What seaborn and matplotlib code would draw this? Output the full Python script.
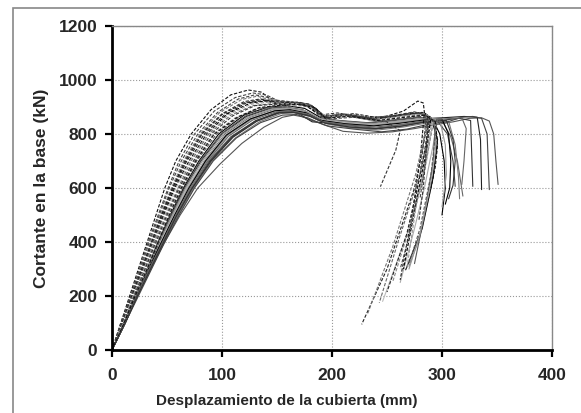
import matplotlib
matplotlib.use("Agg")
import matplotlib.pyplot as plt
from matplotlib.patches import Rectangle
import seaborn as sns

# pushover curves: (desplazamiento mm, cortante kN)
# dashed family (stiffer)
d1 = [(0, 0), (8, 100), (16, 200), (24, 300), (32, 400), (40, 500), (48, 600), (58, 700), (72, 800), (90, 890), (108, 945), (124, 963), (136, 955), (145, 925), (160, 915), (178, 912), (190, 865), (205, 870), (225, 865), (245, 860), (265, 885), (278, 922), (283, 915), (284, 880), (280, 700), (272, 480), (262, 260)]
d2 = [(0, 0), (9, 100), (17, 200), (26, 300), (34, 400), (43, 500), (52, 600), (63, 700), (78, 800), (96, 880), (115, 930), (130, 945), (142, 935), (155, 918), (170, 918), (182, 905), (192, 862), (210, 875), (232, 860), (255, 868), (275, 882), (286, 870), (280, 650), (270, 420), (262, 300)]
d3 = [(0, 0), (10, 100), (19, 200), (28, 300), (37, 400), (46, 500), (56, 600), (68, 700), (84, 800), (102, 870), (122, 915), (140, 925), (155, 912), (172, 915), (185, 895), (195, 860), (215, 872), (240, 855), (262, 870), (280, 875), (288, 860), (275, 600), (250, 300), (227, 95)]
d4 = [(0, 0), (9, 100), (18, 200), (27, 300), (36, 400), (45, 500), (55, 600), (66, 700), (81, 800), (100, 875), (120, 920), (135, 930), (150, 915), (175, 912), (188, 870), (205, 878), (230, 860), (250, 845), (262, 812), (258, 740), (244, 605)]
d5 = [(0, 0), (10, 100), (20, 200), (30, 300), (39, 400), (49, 500), (60, 600), (72, 700), (88, 800), (108, 870), (128, 905), (145, 912), (165, 912), (180, 908), (192, 862), (212, 868), (238, 852), (262, 865), (282, 872), (290, 850), (280, 650), (260, 400), (243, 175)]
d6 = [(0, 0), (11, 100), (21, 200), (31, 300), (41, 400), (51, 500), (62, 600), (75, 700), (92, 800), (112, 860), (132, 895), (150, 905), (170, 910), (183, 900), (194, 858), (215, 865), (240, 848), (265, 860), (284, 870), (292, 840), (282, 620), (268, 420), (255, 250)]
d7 = [(0, 0), (10, 100), (19, 200), (29, 300), (38, 400), (47, 500), (57, 600), (70, 700), (86, 800), (105, 875), (126, 915), (140, 922), (152, 910), (172, 915), (186, 880), (196, 865), (220, 875), (245, 858), (268, 875), (284, 878), (290, 860), (284, 700), (272, 450), (265, 300)]
d8 = [(0, 0), (11, 100), (22, 200), (33, 300), (43, 400), (53, 500), (64, 600), (77, 700), (95, 800), (116, 865), (136, 895), (155, 900), (172, 905), (185, 895), (195, 855), (220, 862), (245, 845), (268, 858), (286, 868), (295, 835), (290, 650), (280, 450), (270, 320)]
d9 = [(0, 0), (9, 100), (18, 200), (27, 300), (35, 400), (44, 500), (54, 600), (65, 700), (80, 800), (98, 880), (118, 928), (132, 940), (145, 925), (162, 918), (178, 912), (190, 866), (208, 874), (235, 858), (260, 866), (278, 874), (288, 862), (276, 650), (255, 380), (232, 130)]
d10 = [(0, 0), (10, 100), (20, 200), (30, 300), (40, 400), (50, 500), (61, 600), (74, 700), (90, 800), (110, 868), (130, 905), (148, 910), (168, 912), (182, 902), (193, 860), (214, 870), (238, 855), (262, 868), (280, 878), (287, 862), (286, 760), (283, 600), (279, 480)]
d11 = [(0, 0), (9, 100), (18, 200), (27, 300), (36, 400), (45, 500), (55, 600), (67, 700), (82, 800), (100, 872), (120, 915), (136, 928), (150, 918), (170, 916), (184, 900), (194, 862), (214, 872), (240, 858), (264, 872), (282, 880), (289, 865), (282, 680), (268, 430), (250, 215)]
d12 = [(0, 0), (10, 100), (19, 200), (29, 300), (38, 400), (48, 500), (58, 600), (71, 700), (87, 800), (106, 872), (126, 910), (142, 918), (158, 912), (175, 914), (188, 880), (197, 864), (220, 872), (246, 856), (270, 870), (285, 875), (291, 855), (286, 720), (276, 520), (268, 300)]
d13 = [(0, 0), (8, 100), (17, 200), (25, 300), (33, 400), (42, 500), (51, 600), (61, 700), (75, 800), (93, 885), (112, 935), (128, 952), (140, 945), (150, 925), (166, 918), (180, 910), (191, 864), (208, 872), (232, 862), (256, 866), (274, 880), (284, 872), (288, 800), (285, 700), (280, 560)]
d14 = [(0, 0), (11, 100), (21, 200), (32, 300), (42, 400), (52, 500), (63, 600), (76, 700), (93, 800), (114, 862), (134, 898), (152, 906), (170, 910), (184, 898), (194, 858), (216, 866), (242, 850), (266, 862), (285, 870), (294, 845), (296, 760), (294, 680), (290, 600)]

# solid family (softer)
s1 = [(0, 0), (11, 100), (21, 200), (32, 300), (42, 400), (53, 500), (65, 600), (79, 700), (97, 800), (120, 870), (142, 900), (158, 905), (175, 895), (190, 860), (210, 845), (235, 838), (260, 845), (280, 855), (292, 850), (298, 800), (302, 700), (303, 600), (300, 500)]
s2 = [(0, 0), (12, 100), (23, 200), (35, 300), (47, 400), (60, 500), (74, 600), (90, 700), (110, 790), (130, 845), (150, 880), (162, 885), (175, 878), (188, 850), (205, 835), (230, 830), (255, 840), (278, 852), (295, 852), (305, 800), (310, 700), (312, 606)]
s3 = [(0, 0), (12, 100), (23, 200), (35, 300), (48, 400), (62, 500), (78, 600), (98, 688), (118, 765), (138, 825), (155, 862), (165, 870), (178, 860), (192, 835), (210, 810), (232, 803), (255, 808), (275, 820), (295, 835), (310, 845), (325, 858), (336, 860), (343, 848), (347, 800), (349, 700), (351, 613)]
s4 = [(0, 0), (11, 100), (22, 200), (33, 300), (44, 400), (56, 500), (69, 600), (84, 700), (103, 800), (125, 860), (146, 890), (160, 892), (172, 870), (182, 845), (200, 840), (225, 832), (250, 842), (275, 855), (300, 860), (320, 865), (332, 862), (335, 780), (336, 594)]
s5 = [(0, 0), (11, 100), (22, 200), (33, 300), (45, 400), (57, 500), (70, 600), (86, 700), (105, 795), (127, 855), (148, 885), (162, 890), (176, 880), (190, 852), (212, 842), (238, 835), (262, 845), (282, 858), (292, 855), (296, 760), (290, 600), (280, 420), (270, 310)]
s6 = [(0, 0), (12, 100), (22, 200), (34, 300), (46, 400), (58, 500), (72, 600), (88, 700), (108, 790), (130, 848), (150, 878), (163, 882), (178, 870), (192, 845), (215, 830), (240, 822), (265, 835), (285, 848), (300, 850), (308, 790), (314, 700), (319, 570)]
s7 = [(0, 0), (11, 100), (21, 200), (32, 300), (43, 400), (54, 500), (66, 600), (81, 700), (100, 800), (122, 865), (144, 895), (158, 898), (174, 888), (188, 858), (208, 848), (234, 840), (258, 850), (280, 860), (290, 858), (296, 780), (292, 640), (282, 450), (267, 297)]
s8 = [(0, 0), (12, 100), (23, 200), (34, 300), (46, 400), (59, 500), (73, 600), (89, 700), (109, 790), (131, 850), (152, 880), (165, 882), (180, 868), (194, 840), (215, 825), (238, 818), (262, 828), (285, 845), (302, 852), (316, 858), (326, 850), (328, 606)]
s9 = [(0, 0), (11, 100), (22, 200), (33, 300), (44, 400), (56, 500), (69, 600), (85, 700), (104, 798), (126, 858), (148, 888), (162, 892), (178, 880), (192, 850), (212, 838), (236, 832), (260, 842), (282, 855), (298, 852), (303, 760), (304, 650), (300, 530)]
s10 = [(0, 0), (12, 100), (23, 200), (35, 300), (47, 400), (60, 500), (74, 600), (91, 700), (112, 785), (134, 845), (154, 876), (166, 878), (180, 865), (195, 838), (218, 822), (242, 815), (265, 826), (288, 842), (306, 848), (312, 760), (315, 640), (316, 560)]
s11 = [(0, 0), (11, 100), (21, 200), (32, 300), (43, 400), (55, 500), (67, 600), (82, 700), (101, 800), (124, 862), (146, 892), (160, 896), (175, 885), (189, 856), (210, 845), (236, 838), (260, 848), (284, 858), (296, 855), (292, 760), (284, 600), (275, 450), (262, 250)]
s12 = [(0, 0), (12, 100), (24, 200), (36, 300), (48, 400), (61, 500), (75, 600), (92, 700), (113, 785), (135, 842), (155, 870), (168, 872), (182, 850), (196, 830), (220, 818), (245, 808), (268, 818), (290, 838), (305, 845), (318, 862), (328, 865), (336, 858), (341, 800), (343, 594)]
s13 = [(0, 0), (11, 100), (22, 200), (33, 300), (44, 400), (56, 500), (68, 600), (84, 700), (103, 798), (125, 858), (147, 888), (161, 892), (176, 882), (190, 854), (210, 843), (235, 836), (258, 846), (280, 857), (292, 853), (286, 700), (270, 450), (246, 180)]
s14 = [(0, 0), (11, 100), (21, 200), (32, 300), (42, 400), (54, 500), (66, 600), (80, 700), (99, 800), (121, 866), (143, 896), (157, 900), (173, 890), (187, 860), (207, 850), (232, 842), (256, 852), (278, 862), (294, 850), (292, 700), (284, 500), (275, 320)]
s15 = [(0, 0), (11, 100), (22, 200), (33, 300), (45, 400), (57, 500), (70, 600), (85, 700), (104, 796), (126, 856), (148, 886), (162, 890), (177, 878), (191, 850), (212, 838), (238, 830), (262, 840), (284, 852), (300, 855), (306, 800), (308, 700), (307, 600), (303, 540)]
s16 = [(0, 0), (12, 100), (22, 200), (34, 300), (46, 400), (58, 500), (71, 600), (87, 700), (106, 792), (128, 852), (149, 882), (163, 886), (178, 874), (192, 846), (214, 834), (240, 826), (264, 836), (286, 850), (302, 856), (318, 860), (322, 820), (320, 700), (318, 613)]
s17 = [(0, 0), (11, 100), (21, 200), (32, 300), (43, 400), (55, 500), (67, 600), (82, 700), (101, 800), (123, 862), (145, 893), (159, 897), (175, 887), (189, 857), (210, 846), (235, 838), (259, 848), (282, 858), (294, 855), (294, 740), (289, 600), (280, 430), (270, 300)]
s18 = [(0, 0), (12, 100), (23, 200), (35, 300), (47, 400), (59, 500), (73, 600), (90, 700), (110, 788), (132, 848), (152, 878), (165, 880), (180, 866), (194, 840), (216, 826), (240, 820), (264, 830), (287, 846), (304, 850), (310, 780), (312, 700), (310, 610), (306, 560)]

dashed = [d1, d2, d3, d4, d5, d6, d7, d8, d9, d10, d11, d12, d13, d14]
solid = [s1, s2, s3, s4, s5, s6, s7, s8, s9, s10, s11, s12, s13, s14, s15, s16, s17, s18]
dashed_colors = ["#111111", "#444444", "#222222", "#333333", "#666666", "#888888", "#000000",
                 "#555555", "#777777", "#333333", "#222222", "#999999", "#444444", "#111111"]
solid_colors = ["#000000", "#444444", "#555555", "#222222", "#888888", "#666666", "#111111",
                "#333333", "#999999", "#777777", "#aaaaaa", "#444444", "#bbbbbb", "#555555",
                "#000000", "#666666", "#999999", "#333333"]

sns.set_style("white")
plt.rcParams["font.family"] = ["Liberation Sans", "DejaVu Sans"]

fig = plt.figure(figsize=(5.81, 4.13), dpi=100)
ax = fig.add_axes([112 / 581, 1 - 350 / 413, 440 / 581, 324 / 413])

for curve, col in zip(solid, solid_colors):
    xs = [p[0] for p in curve]
    ys = [p[1] for p in curve]
    sns.lineplot(x=xs, y=ys, sort=False, estimator=None, color=col, lw=0.8, ax=ax)
for curve, col in zip(dashed, dashed_colors):
    xs = [p[0] for p in curve]
    ys = [p[1] for p in curve]
    sns.lineplot(x=xs, y=ys, sort=False, estimator=None, color=col, lw=0.8,
                 linestyle=(0, (3, 1.5)), ax=ax)

ax.set_xlim(0, 400)
ax.set_ylim(0, 1200)
ax.set_xticks([0, 100, 200, 300, 400])
ax.set_yticks([0, 200, 400, 600, 800, 1000, 1200])
ax.grid(True, linestyle=":", color="#999999", lw=0.8)

for side in ["left", "bottom"]:
    ax.spines[side].set_color("black")
    ax.spines[side].set_linewidth(2)
for side in ["top", "right"]:
    ax.spines[side].set_color("#888888")
    ax.spines[side].set_linewidth(1)

ax.tick_params(axis="both", which="major", length=5, width=1.6, color="black",
               labelsize=12.5, bottom=True, left=True)
ax.tick_params(axis="x", pad=8)
ax.tick_params(axis="y", pad=5.5)
for lab in ax.get_xticklabels() + ax.get_yticklabels():
    lab.set_fontweight("bold")

ax.set_xlabel("Desplazamiento de la cubierta (mm)", fontsize=11, fontweight="bold", labelpad=5)
ax.xaxis.set_label_coords((287 - 112) / 440, -0.135)
ax.set_ylabel("Cortante en la base (kN)", fontsize=12.5, fontweight="bold", labelpad=7)

fig.patches.append(Rectangle((13 / 581, -0.1), 2, 1 - 8 / 413 + 0.1, fill=False,
                             edgecolor="#888888", lw=1.2, transform=fig.transFigure))

fig.savefig("out.png", dpi=100)
